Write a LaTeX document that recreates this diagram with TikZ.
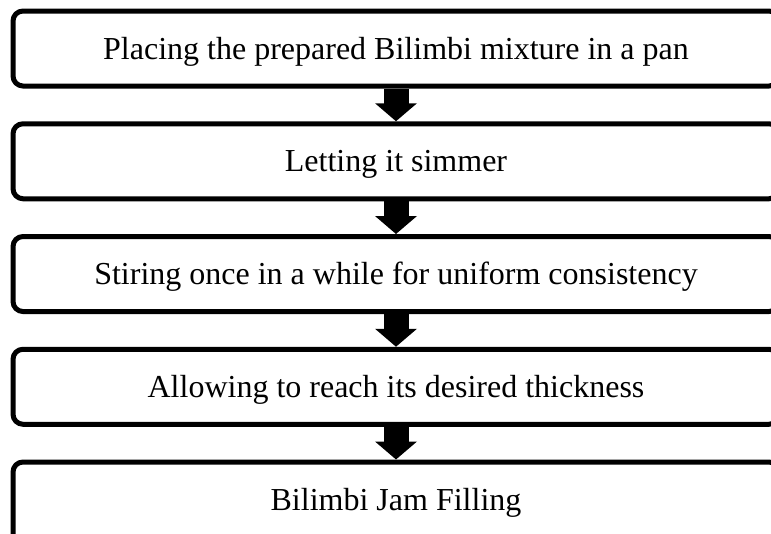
\documentclass[tikz,border=0pt]{standalone}
\usepackage{fontspec}
\setmainfont{Liberation Serif}
\usetikzlibrary{arrows.meta}
\tikzset{
  stepbox/.style={draw=black, fill=white, line width=3.75pt, rounded corners=7.5pt,
    minimum width=574.5pt, minimum height=56.25pt, inner sep=0pt,
    text height=15.9pt, text depth=0pt,
    font=\fontsize{24}{28}\selectfont},
  openbox/.style={stepbox, minimum height=67.5pt, text depth=11.25pt},
  blockarrow/.style={draw=black, line width=18.75pt,
    -{Triangle[width=30.75pt, length=13.5pt]}}
}
\begin{document}
\begin{tikzpicture}[x=0.75pt, y=-0.75pt]
  \useasboundingbox (0,0) rectangle (771,533);
  \clip (0,0) rectangle (771,533);
  \node[stepbox] (b1) at (396,48.5)   {Placing the prepared Bilimbi mixture in a pan};
  \node[stepbox] (b2) at (396,161.25) {Letting it simmer};
  \node[stepbox] (b3) at (396,274)    {Stiring once in a while for uniform consistency};
  \node[stepbox] (b4) at (396,386.75) {Allowing to reach its desired thickness};
  % last step runs on past the lower edge
  \node[openbox] (b5) at (396,507)    {Bilimbi Jam Filling};
  \draw[blockarrow] (b1.south) -- (b2.north);
  \draw[blockarrow] (b2.south) -- (b3.north);
  \draw[blockarrow] (b3.south) -- (b4.north);
  \draw[blockarrow] (b4.south) -- (b5.north);
\end{tikzpicture}
\end{document}
